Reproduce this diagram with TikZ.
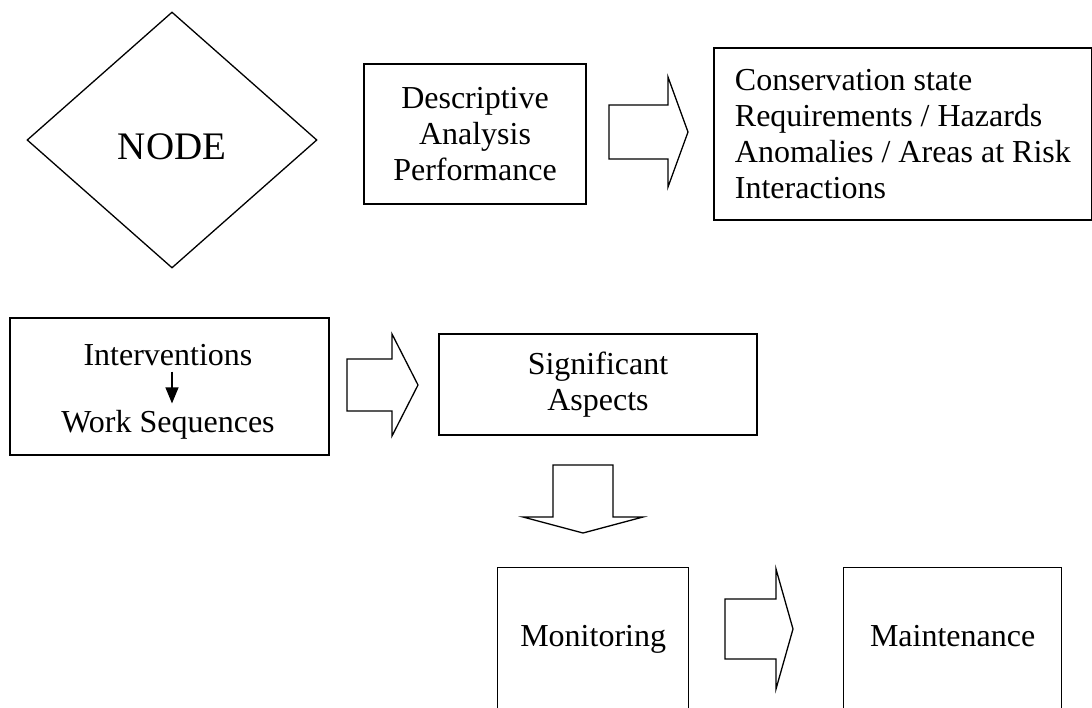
\documentclass[tikz,border=0pt]{standalone}
\usepackage{fontspec}
\setmainfont{Liberation Serif}
\usepackage{tikz}
\usetikzlibrary{arrows.meta, positioning, shapes.geometric}

\tikzset{
  % block arrow: shaft length, head length, shaft half width, head half width
  pics/fatarrow/.style n args={4}{code={
    \draw[line width=0.65pt] (0,-#3) -- (#1,-#3) -- (#1,-#4) -- (#1+#2,0)
        -- (#1,#4) -- (#1,#3) -- (0,#3) -- cycle;
  }}
}

\begin{document}
\begin{tikzpicture}[x=0.5pt, y=-0.5pt,
    every node/.style={font=\fontsize{16}{18}\selectfont},
    box/.style={draw, line width=0.9pt, inner sep=0pt, align=center},
    thinbox/.style={draw, line width=0.65pt, inner sep=0pt, text height=11pt, text depth=3.5pt}]
    \useasboundingbox (0,0) rectangle (1092,707);
    \clip (0,0) rectangle (1092,707);

    % Decision node
    \node[diamond, draw, line width=0.65pt, inner sep=0pt, aspect=1.13,
          minimum width=145pt, minimum height=128pt, text height=19pt, text depth=0pt,
          font=\fontsize{19.5}{22}\selectfont] (dnode) at (172,140) {NODE};

    % Top row
    \node[box, minimum width=111pt, minimum height=70pt] (descbox) at (475,134)
        {Descriptive\\Analysis\\Performance};
    \pic (arrDesc) at (609,132) {fatarrow={59}{20}{27}{55}};
    \node[box, anchor=north west, minimum width=189pt, minimum height=86pt, align=left] (consbox) at (713,47)
        {Conservation state\\Requirements / Hazards\\Anomalies / Areas at Risk\\Interactions};

    % Middle row
    \node[box, anchor=north west, minimum width=159.5pt, minimum height=68.5pt] (intvbox) at (9,317) {};
    \node[anchor=base, inner sep=3pt] (intv) at (168,365) {Interventions};
    \node[anchor=base, inner sep=3pt] (work) at (168,432) {Work Sequences};
    \draw[-{Triangle[length=8pt, width=6.5pt]}, line width=0.6pt]
        ([xshift=2pt]intv.south) -- ([xshift=2pt]work.north);
    \pic (arrIntv) at (347,385) {fatarrow={45}{26}{26}{51}};
    \node[box, minimum width=159pt, minimum height=50.5pt] (sigbox) at (598,384.5) {Significant\\Aspects};

    % Down to monitoring
    \pic[rotate=-90] (arrSig) at (583,465) {fatarrow={52}{16}{30}{60}};

    % Bottom row
    \node[thinbox, anchor=north west, minimum width=95.5pt, minimum height=71pt] (monbox) at (497,567) {Monitoring};
    \pic (arrMon) at (725,629) {fatarrow={51}{17}{30}{60}};
    \node[thinbox, anchor=north west, minimum width=109pt, minimum height=71pt] (maintbox) at (843,567) {Maintenance};
\end{tikzpicture}
\end{document}
